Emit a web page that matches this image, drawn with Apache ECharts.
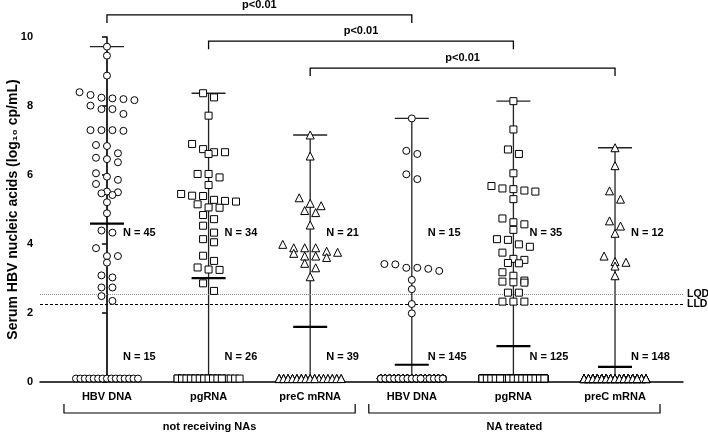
<!DOCTYPE html>
<html><head><meta charset="utf-8">
<script src="https://cdn.jsdelivr.net/npm/echarts@6/dist/echarts.min.js"></script>
<style>html,body{margin:0;padding:0;background:#fff}#c{width:708px;height:435px}</style>
</head><body><div id="c"></div><script>
// ---------- data ----------
const categories = ['HBV DNA', 'pgRNA', 'preC mRNA', 'HBV DNA', 'pgRNA', 'preC mRNA'];
const groupNames = ['not receiving NAs', 'NA treated'];
const symbols = ['circle', 'rect', 'triangle', 'circle', 'rect', 'triangle'];

// detected values (log10 cp/mL)
const hbvDnaUntreated = [9.72, 9.46, 8.88, 8.20, 8.32, 8.22, 8.24, 8.40, 8.17, 7.91, 8.01, 7.77, 7.91,
  7.28, 7.30, 7.30, 7.30, 6.84, 6.87, 6.37, 6.50, 6.63, 6.46, 6.05, 5.95, 5.74, 5.86, 5.42, 5.52, 5.47,
  5.50, 5.21, 4.89, 4.33, 4.39, 3.88, 3.65, 3.65, 3.46, 3.03, 3.09, 2.74, 2.74, 2.49, 2.35];
const pgRnaUntreated = [8.37, 8.25, 7.72, 6.90, 6.61, 6.75, 6.66, 6.66, 6.03, 6.03, 5.93, 5.71, 5.39,
  5.23, 5.05, 5.45, 5.28, 5.25, 5.06, 5.40, 5.15, 4.84, 4.72, 4.53, 4.33, 4.14, 4.05, 3.66, 3.51, 3.25,
  3.32, 3.26, 2.86, 2.64];
const preCUntreated = [7.16, 6.55, 5.34, 5.11, 4.91, 5.18, 4.97, 4.55, 3.89, 3.65, 3.79, 3.89, 3.65,
  3.76, 3.89, 3.61, 3.99, 3.73, 3.31, 3.44, 3.05];
const hbvDnaTreated = [7.64, 6.61, 6.70, 5.88, 6.02, 3.28, 3.41, 3.31, 3.31, 3.42, 3.22, 2.96, 2.69, 2.26, 1.99];
const pgRnaTreated = [8.14, 7.32, 6.61, 6.74, 6.05, 5.68, 5.52, 5.61, 5.55, 5.59, 5.30, 4.74, 4.57, 4.63,
  4.41, 4.14, 3.92, 4.12, 3.99, 3.75, 3.44, 3.57, 3.45, 3.54, 3.18, 3.08, 2.88, 2.94, 2.89, 2.91, 2.59,
  2.59, 2.33, 2.33, 2.33];
const preCTreated = [6.79, 6.27, 5.54, 5.30, 4.52, 4.67, 4.31, 3.36, 3.49, 3.65, 3.47, 3.08];

const detected = [hbvDnaUntreated, pgRnaUntreated, preCUntreated, hbvDnaTreated, pgRnaTreated, preCTreated];
const undetectedCounts = [15, 26, 39, 145, 125, 148];
const undetectedValue = 0.1;
const centreLines = [4.59, 3.01, 1.60, 0.50, 1.04, 0.44];
const yTicks = [0, 2, 4, 6, 8, 10];
const lqd = 2.55, lld = 2.26;
const comparisons = [[0, 3, 'p<0.01'], [1, 4, 'p<0.01'], [2, 5, 'p<0.01']];

// ---------- layout helpers ----------
const FONT = '"Liberation Sans", Arial, Helvetica, sans-serif';
const SLOT = 0.108;   // horizontal spacing of swarm columns (category units)
const BIN = 0.25;     // vertical bin height for swarm rows
const SPREAD = 0.305; // half-width of the undetected strip
const STRIP_COLS = 15;

function swarm(values, cat) {
  const sorted = values.slice().sort((a, b) => b - a);
  const pts = [];
  let bin = [];
  const flush = () => {
    bin.forEach((v, j) => pts.push([cat + (j - (bin.length - 1) / 2) * SLOT, v]));
    bin = [];
  };
  sorted.forEach(v => { if (bin.length && bin[0] - v >= BIN) flush(); bin.push(v); });
  flush();
  return pts;
}
function strip(n, cat) {
  const cols = Math.min(n, STRIP_COLS);
  const pts = [];
  for (let k = 0; k < n; k++) {
    const c = k % cols;
    pts.push([cat - SPREAD + 2 * SPREAD * c / (cols - 1), undetectedValue]);
  }
  return pts;
}

const series = [];
detected.forEach((vals, i) => {
  series.push({
    type: 'scatter', z: 5, symbol: symbols[i], symbolSize: symbols[i] === 'triangle' ? 8 : 7,
    itemStyle: { color: '#fff', borderColor: '#000', borderWidth: 1, opacity: 1 },
    emphasis: { disabled: true }, silent: true, animation: false,
    data: swarm(vals, i).concat(strip(undetectedCounts[i], i))
  });
});

// range line, cap and centre line + N labels
const summary = detected.map((vals, i) => [i, Math.max(...vals), centreLines[i], vals.length, undetectedCounts[i]]);
series.push({
  type: 'custom', z: 2, silent: true, animation: false, clip: false,
  data: summary,
  renderItem: (params, api) => {
    const i = api.value(0), top = api.value(1), mid = api.value(2);
    const b = api.coord([i, 0]), t = api.coord([i, top]), m = api.coord([i, mid]);
    const hw = 17;
    return { type: 'group', children: [
      { type: 'line', shape: { x1: b[0], y1: b[1], x2: t[0], y2: t[1] }, style: { stroke: '#222', lineWidth: 1.3 } },
      { type: 'line', shape: { x1: t[0] - hw, y1: t[1], x2: t[0] + hw, y2: t[1] }, style: { stroke: '#222', lineWidth: 1.3 } },
      { type: 'line', shape: { x1: m[0] - hw, y1: m[1], x2: m[0] + hw, y2: m[1] }, style: { stroke: '#000', lineWidth: 2.2 } }
    ]};
  }
});
series.push({
  type: 'custom', z: 6, silent: true, animation: false, clip: false,
  data: summary,
  renderItem: (params, api) => {
    const i = api.value(0);
    const a = api.coord([i, 4.32]), c = api.coord([i, 0.72]);
    const st = (txt) => ({ text: txt, font: 'bold 11px ' + FONT, fill: '#000', align: 'left', verticalAlign: 'middle' });
    return { type: 'group', children: [
      { type: 'text', x: a[0] + 16, y: a[1], style: st('N = ' + api.value(3)) },
      { type: 'text', x: c[0] + 16, y: c[1], style: st('N = ' + api.value(4)) }
    ]};
  }
});

// comparison brackets (top) and group brackets (bottom) + LQD/LLD lines
const bracketLevels = [10.64, 9.88, 9.10];
series.push({
  type: 'custom', z: 6, silent: true, animation: false, clip: false,
  data: [[0]],
  renderItem: (params, api) => {
    const ch = [];
    comparisons.forEach((cmp, k) => {
      const p1 = api.coord([cmp[0], bracketLevels[k]]), p2 = api.coord([cmp[1], bracketLevels[k]]);
      const y = p1[1];
      ch.push({ type: 'polyline', shape: { points: [[p1[0], y + 8], [p1[0], y], [p2[0], y], [p2[0], y + 8]] },
        style: { stroke: '#000', lineWidth: 1.3, fill: null } });
      ch.push({ type: 'text', x: (p1[0] + p2[0]) / 2, y: y - 10,
        style: { text: cmp[2], font: 'bold 11px ' + FONT, fill: '#000', align: 'center', verticalAlign: 'middle' } });
    });
    const base = api.coord([0, 0])[1];
    [[0, 2], [3, 5]].forEach((g, k) => {
      const xl = api.coord([g[0], 0])[0] - 43, xr = api.coord([g[1], 0])[0] + 45;
      ch.push({ type: 'polyline', shape: { points: [[xl, base + 22], [xl, base + 31], [xr, base + 31], [xr, base + 22]] },
        style: { stroke: '#000', lineWidth: 1.2, fill: null } });
      ch.push({ type: 'text', x: (xl + xr) / 2, y: base + 45,
        style: { text: groupNames[k], font: 'bold 11px ' + FONT, fill: '#000', align: 'center', verticalAlign: 'middle' } });
    });
    return { type: 'group', children: ch };
  }
});
series.push({
  type: 'line', data: [], silent: true, animation: false,
  markLine: {
    silent: true, symbol: 'none', animation: false,
    label: { show: true, position: 'end', formatter: '{b}', fontWeight: 'bold', fontSize: 10.5, fontFamily: FONT, color: '#000', distance: 4 },
    data: [
      { name: 'LQD', yAxis: lqd, lineStyle: { type: [1, 1], color: '#8a8a8a', width: 1 } },
      { name: 'LLD', yAxis: lld, lineStyle: { type: [3, 2], color: '#000', width: 1 } }
    ]
  }
});

const chart = echarts.init(document.getElementById('c'), null, { renderer: 'canvas' });
chart.setOption({
  animation: false,
  backgroundColor: '#fff',
  grid: { left: 40, right: 25, top: 37, bottom: 53, containLabel: false, outerBoundsMode: 'none' },
  xAxis: {
    type: 'value', min: -0.659, max: 5.669,
    axisLine: { show: true, onZero: false, lineStyle: { color: '#000', width: 1.5 } },
    axisTick: { show: false }, splitLine: { show: false },
    axisLabel: {
      customValues: [0, 1, 2, 3, 4, 5], formatter: v => categories[Math.round(v)],
      fontWeight: 'bold', fontSize: 11, fontFamily: FONT, color: '#000', margin: 9
    }
  },
  yAxis: {
    type: 'value', min: yTicks[0], max: yTicks[yTicks.length - 1], interval: 2,
    name: 'Serum HBV nucleic acids (log₁₀ cp/mL)', nameLocation: 'middle', nameGap: 20, nameMoveOverlap: false,
    nameTextStyle: { fontWeight: 'bold', fontSize: 14, fontFamily: FONT, color: '#000' },
    axisLine: { show: true, lineStyle: { color: '#000', width: 1.5 } },
    axisTick: { show: true, length: 5, lineStyle: { color: '#000', width: 1.5 } },
    splitLine: { show: false },
    axisLabel: { fontWeight: 'bold', fontSize: 11, fontFamily: FONT, color: '#000', margin: 7 }
  },
  series
});
</script></body></html>
